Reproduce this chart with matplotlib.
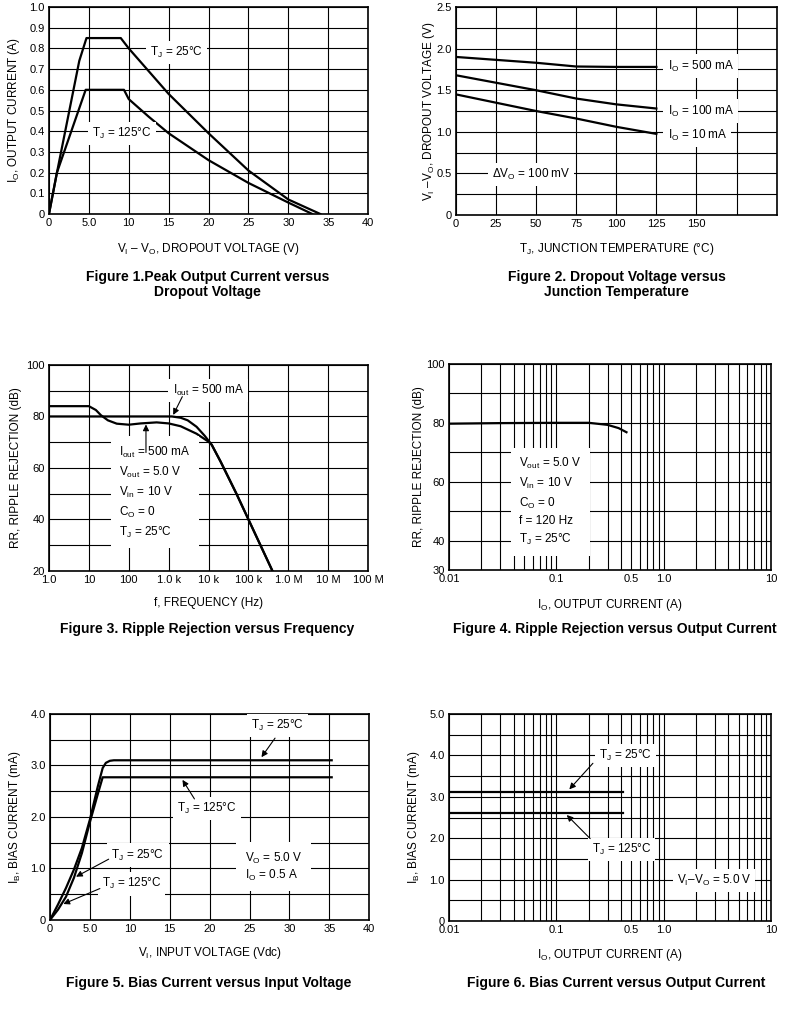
import matplotlib
matplotlib.use('Agg')
import matplotlib.pyplot as plt
from matplotlib import font_manager
from matplotlib.ticker import LogLocator, NullFormatter

# pick a condensed sans if there is one
names = {f.name for f in font_manager.fontManager.ttflist}
NARROW = 'Liberation Sans Narrow' if 'Liberation Sans Narrow' in names else 'Liberation Sans'

plt.rcParams['font.family'] = [NARROW, 'DejaVu Sans']
plt.rcParams['mathtext.fontset'] = 'custom'
plt.rcParams['mathtext.rm'] = NARROW
plt.rcParams['mathtext.default'] = 'rm'

# Figure 1: peak output current vs dropout voltage
f1_v25 = [0, 1.0, 3.8, 4.7, 9.0, 10, 12.5, 15, 20, 25, 30, 34]
f1_i25 = [0, 0.20, 0.74, 0.85, 0.85, 0.80, 0.69, 0.58, 0.39, 0.21, 0.07, 0.0]
f1_v125 = [0, 1.0, 4.6, 9.4, 10, 12.5, 15, 20, 25, 30, 33]
f1_i125 = [0, 0.20, 0.60, 0.60, 0.555, 0.47, 0.39, 0.26, 0.15, 0.055, 0.0]

# Figure 2: dropout voltage vs junction temperature
f2_t = [0, 25, 50, 75, 100, 125]
f2_v500 = [1.90, 1.865, 1.83, 1.785, 1.78, 1.78]
f2_v100 = [1.68, 1.59, 1.50, 1.40, 1.33, 1.28]
f2_v10 = [1.45, 1.35, 1.25, 1.16, 1.06, 0.975]

# Figure 3: ripple rejection vs frequency
f3_fa = [1, 10, 15, 20, 30, 50, 100, 200, 500, 1000, 2000, 5000, 10000, 12000,
         20000, 50000, 100000, 400000]
f3_rra = [84, 84, 82.5, 80.5, 78.5, 77.2, 76.8, 77.3, 77.7, 77.3, 76.2, 73.3, 70.2, 69,
          62.5, 50, 40, 20]
f3_fb = [1, 1200, 2000, 3000, 5000, 8000, 12000, 20000, 50000, 100000, 400000]
f3_rrb = [80, 80, 79.5, 78.5, 76, 72.5, 69, 62.5, 50, 40, 20]
f3_xticks = [1, 10, 100, 1e3, 1e4, 1e5, 1e6, 1e7, 1e8]
f3_xlabels = ['1.0', '10', '100', '1.0 k', '10 k', '100 k', '1.0 M', '10 M', '100 M']

# Figure 4: ripple rejection vs output current
f4_io = [0.01, 0.03, 0.1, 0.2, 0.3, 0.38, 0.45]
f4_rr = [79.7, 79.9, 80.0, 80.0, 79.3, 78.2, 76.8]

# Figure 5: bias current vs input voltage
f5_v25 = [0, 1, 2, 3, 4, 5, 6, 6.6, 7, 7.5, 8, 35.3]
f5_ib25 = [0, 0.30, 0.62, 0.98, 1.40, 1.95, 2.60, 2.95, 3.05, 3.09, 3.10, 3.10]
f5_v125 = [0, 1, 2, 3, 4, 5, 6, 6.6, 35.3]
f5_ib125 = [0, 0.20, 0.45, 0.82, 1.30, 1.90, 2.45, 2.77, 2.77]

# Figure 6: bias current vs output current
f6_io = [0.01, 0.42]
f6_ib25 = [3.12, 3.12]
f6_ib125 = [2.60, 2.60]

log_labels = ['0.01', '0.1', '0.5', '1.0', '10']
log_ticks = [0.01, 0.1, 0.5, 1.0, 10]

LW = 1.6
TS = 8
AS = 8.5
BOX = dict(facecolor='white', edgecolor='none', pad=3)
ARROW = dict(arrowstyle='-|>', color='k', lw=0.8, mutation_scale=9, shrinkA=0, shrinkB=0)


def setup(ax, xlabel, ylabel, xl, yl):
    ax.tick_params(which='both', length=0, labelsize=TS, pad=3)
    ax.grid(True, which='both', color='k', lw=0.8)
    ax.set_axisbelow(True)
    for s in ax.spines.values():
        s.set_linewidth(1.2)
    ax.set_xlabel(xlabel, fontsize=TS + 0.5)
    ax.set_ylabel(ylabel, fontsize=TS + 0.5)
    ax.xaxis.set_label_coords(0.5, xl)
    ax.yaxis.set_label_coords(yl, 0.5)


def note(ax, s, x, y, **kw):
    ax.text(x, y, s, fontsize=AS, va='center', bbox=BOX, zorder=4, **kw)


fig = plt.figure(figsize=(8.04, 10.18), dpi=100)

# ---- Figure 1
ax1 = fig.add_axes([0.0609, 0.7898, 0.397, 0.2033])
ax1.plot(f1_v25, f1_i25, 'k-', lw=LW)
ax1.plot(f1_v125, f1_i125, 'k-', lw=LW)
ax1.set_xlim(0, 40)
ax1.set_ylim(0, 1.0)
ax1.set_xticks(range(0, 41, 5))
ax1.set_xticklabels(['0', '5.0', '10', '15', '20', '25', '30', '35', '40'])
ax1.set_yticks([i / 10 for i in range(11)])
ax1.set_yticklabels(['0'] + ['%.1f' % (i / 10) for i in range(1, 11)])
setup(ax1, 'V$_I$ – V$_O$, DROPOUT VOLTAGE (V)', 'I$_O$, OUTPUT CURRENT (A)', -0.13, -0.085)
note(ax1, 'T$_J$ = 25°C', 12.7, 0.78)
note(ax1, 'T$_J$ = 125°C', 5.4, 0.39)

# ---- Figure 2
ax2 = fig.add_axes([0.567, 0.7888, 0.399, 0.2043])
ax2.plot(f2_t, f2_v500, 'k-', lw=LW)
ax2.plot(f2_t, f2_v100, 'k-', lw=LW)
ax2.plot(f2_t, f2_v10, 'k-', lw=LW)
ax2.set_xlim(0, 200)
ax2.set_ylim(0, 2.5)
ax2.set_xticks(range(0, 201, 25))
ax2.set_xticklabels(['0', '25', '50', '75', '100', '125', '150', '', ''])
ax2.set_yticks([i * 0.25 for i in range(11)])
ax2.set_yticklabels(['0', '', '0.5', '', '1.0', '', '1.5', '', '2.0', '', '2.5'])
setup(ax2, 'T$_J$, JUNCTION TEMPERATURE (°C)', 'V$_I$ –V$_O$, DROPOUT VOLTAGE (V)', -0.125, -0.06)
note(ax2, 'I$_O$ = 500 mA', 132, 1.79)
note(ax2, 'I$_O$ = 100 mA', 132, 1.25)
note(ax2, 'I$_O$ = 10 mA', 132, 0.96)
note(ax2, 'ΔV$_O$ = 100 mV', 22.4, 0.49)

# ---- Figure 3
ax3 = fig.add_axes([0.0609, 0.4391, 0.397, 0.2024])
ax3.semilogx(f3_fa, f3_rra, 'k-', lw=LW)
ax3.semilogx(f3_fb, f3_rrb, 'k-', lw=LW)
ax3.set_xlim(1, 1e8)
ax3.set_ylim(20, 100)
ax3.set_xticks(f3_xticks)
ax3.set_xticklabels(f3_xlabels)
ax3.xaxis.set_minor_locator(plt.NullLocator())
ax3.set_yticks(range(20, 101, 10))
ax3.set_yticklabels(['20', '', '40', '', '60', '', '80', '', '100'])
setup(ax3, 'f, FREQUENCY (Hz)', 'RR, RIPPLE REJECTION (dB)', -0.125, -0.085)
note(ax3, 'I$_{out}$ = 500 mA', 1250, 90)
ax3.annotate('', xy=(1300, 80.6), xytext=(2200, 87.7), arrowprops=ARROW, zorder=5)
ax3.annotate('', xy=(270, 76.9), xytext=(270, 66), arrowprops=ARROW, zorder=5)
ax3.text(58, 50.5, 'I$_{out}$ = 500 mA\nV$_{out}$ = 5.0 V\nV$_{in}$ = 10 V\nC$_O$ = 0\nT$_J$ = 25°C',
         fontsize=AS, va='center', linespacing=1.45, zorder=4,
         bbox=dict(facecolor='white', edgecolor='none', pad=6))

# ---- Figure 4
ax4 = fig.add_axes([0.5585, 0.4401, 0.4005, 0.2024])
ax4.semilogx(f4_io, f4_rr, 'k-', lw=LW)
ax4.set_xlim(0.01, 10)
ax4.set_ylim(30, 100)
ax4.set_xticks(log_ticks)
ax4.set_xticklabels(log_labels)
ax4.xaxis.set_minor_locator(LogLocator(base=10, subs=range(2, 10)))
ax4.xaxis.set_minor_formatter(NullFormatter())
ax4.set_yticks(range(30, 101, 10))
ax4.set_yticklabels(['30', '40', '', '60', '', '80', '', '100'])
setup(ax4, 'I$_O$, OUTPUT CURRENT (A)', 'RR, RIPPLE REJECTION (dB)', -0.13, -0.075)
ax4.text(0.045, 53.2, 'V$_{out}$ = 5.0 V\nV$_{in}$ = 10 V\nC$_O$ = 0\nf = 120 Hz\nT$_J$ = 25°C',
         fontsize=AS, va='center', linespacing=1.45, zorder=4,
         bbox=dict(facecolor='white', edgecolor='none', pad=6))

# ---- Figure 5
ax5 = fig.add_axes([0.0622, 0.0963, 0.397, 0.2024])
ax5.plot(f5_v25, f5_ib25, 'k-', lw=LW)
ax5.plot(f5_v125, f5_ib125, 'k-', lw=LW)
ax5.set_xlim(0, 40)
ax5.set_ylim(0, 4.0)
ax5.set_xticks(range(0, 41, 5))
ax5.set_xticklabels(['0', '5.0', '10', '15', '20', '25', '30', '35', '40'])
ax5.set_yticks([i * 0.5 for i in range(9)])
ax5.set_yticklabels(['0', '', '1.0', '', '2.0', '', '3.0', '', '4.0'])
setup(ax5, 'V$_I$, INPUT VOLTAGE (Vdc)', 'I$_B$, BIAS CURRENT (mA)', -0.12, -0.085)
note(ax5, 'T$_J$ = 25°C', 25.2, 3.77)
ax5.annotate('', xy=(26.5, 3.16), xytext=(28.2, 3.53), arrowprops=ARROW, zorder=5)
note(ax5, 'T$_J$ = 125°C', 15.9, 2.17)
ax5.annotate('', xy=(16.6, 2.72), xytext=(18.1, 2.35), arrowprops=ARROW, zorder=5)
note(ax5, 'T$_J$ = 25°C', 7.7, 1.26)
ax5.annotate('', xy=(3.26, 0.84), xytext=(7.35, 1.18), arrowprops=ARROW, zorder=5)
note(ax5, 'T$_J$ = 125°C', 6.5, 0.70)
ax5.annotate('', xy=(1.67, 0.31), xytext=(6.25, 0.61), arrowprops=ARROW, zorder=5)
ax5.text(24.4, 1.03, 'V$_O$ = 5.0 V\nI$_O$ = 0.5 A', fontsize=AS, va='center',
         linespacing=1.2, zorder=4, bbox=dict(facecolor='white', edgecolor='none', pad=6))

# ---- Figure 6
ax6 = fig.add_axes([0.5585, 0.0953, 0.4005, 0.2033])
ax6.semilogx(f6_io, f6_ib25, 'k-', lw=LW)
ax6.semilogx(f6_io, f6_ib125, 'k-', lw=LW)
ax6.set_xlim(0.01, 10)
ax6.set_ylim(0, 5.0)
ax6.set_xticks(log_ticks)
ax6.set_xticklabels(log_labels)
ax6.xaxis.set_minor_locator(LogLocator(base=10, subs=range(2, 10)))
ax6.xaxis.set_minor_formatter(NullFormatter())
ax6.set_yticks([i * 0.5 for i in range(11)])
ax6.set_yticklabels(['0', '', '1.0', '', '2.0', '', '3.0', '', '4.0', '', '5.0'])
setup(ax6, 'I$_O$, OUTPUT CURRENT (A)', 'I$_B$, BIAS CURRENT (mA)', -0.125, -0.085)
note(ax6, 'T$_J$ = 25°C', 0.25, 4.0)
ax6.annotate('', xy=(0.132, 3.18), xytext=(0.219, 3.81), arrowprops=ARROW, zorder=5)
note(ax6, 'T$_J$ = 125°C', 0.214, 1.73)
ax6.annotate('', xy=(0.125, 2.56), xytext=(0.2065, 1.99), arrowprops=ARROW, zorder=5)
note(ax6, 'V$_I$–V$_O$ = 5.0 V', 1.32, 0.98)

# captions
CAP = dict(ha='center', va='center', fontsize=10, weight='bold', family='Liberation Sans',
           linespacing=1.15)
fig.text(0.258, 0.7205, 'Figure 1.Peak Output Current versus\nDropout Voltage', **CAP)
fig.text(0.767, 0.7205, 'Figure 2. Dropout Voltage versus\nJunction Temperature', **CAP)
fig.text(0.258, 0.382, 'Figure 3. Ripple Rejection versus Frequency', **CAP)
fig.text(0.765, 0.382, 'Figure 4. Ripple Rejection versus Output Current', **CAP)
fig.text(0.259, 0.0344, 'Figure 5. Bias Current versus Input Voltage', **CAP)
fig.text(0.767, 0.0344, 'Figure 6. Bias Current versus Output Current', **CAP)

fig.savefig('out.png', dpi=100)
